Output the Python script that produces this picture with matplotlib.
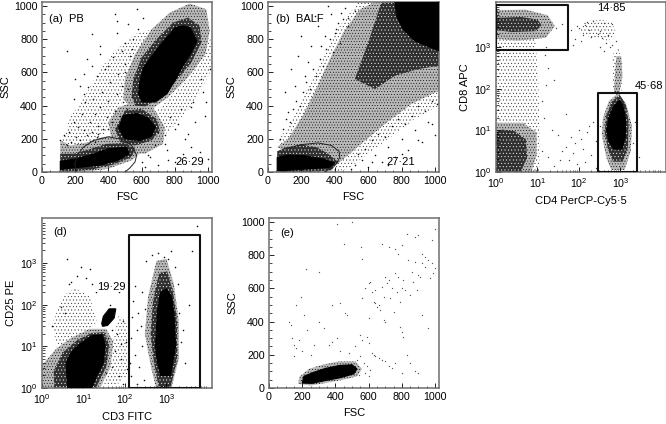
import numpy as np
import matplotlib
matplotlib.use("Agg")
import matplotlib.pyplot as plt
from matplotlib.ticker import FixedLocator, NullFormatter

plt.rcParams["font.family"] = ["Liberation Sans", "DejaVu Sans"]
plt.rcParams["font.size"] = 7.7
plt.rcParams["hatch.linewidth"] = 0.3

# Log panels hold decade exponents (2.5 means 10^2.5).

# (a) PB
a_core = [
    ([602, 582, 590, 612, 670, 733, 803, 850, 893, 933, 900, 843, 800, 753, 683],
     [422, 472, 550, 630, 710, 790, 870, 880, 870, 790, 720, 630, 550, 472, 422]),
    ([462, 500, 590, 660, 683, 640, 570, 490],
     [260, 200, 190, 215, 270, 325, 352, 340]),
    ([110, 110, 200, 300, 400, 510, 525, 460, 350, 250, 180],
     [15, 65, 78, 105, 140, 150, 110, 72, 42, 30, 25]),
]
a_mid = [
    ([540, 560, 620, 700, 800, 900, 960, 950, 880, 790, 690, 600, 550],
     [460, 400, 395, 440, 540, 660, 780, 880, 930, 900, 800, 690, 560]),
    ([440, 470, 560, 660, 710, 690, 600, 500],
     [260, 180, 160, 190, 250, 320, 380, 370]),
    ([110, 110, 190, 280, 390, 500, 560, 540, 430, 300, 200],
     [0, 110, 110, 135, 170, 175, 140, 90, 45, 15, 5]),
]
a_light = [
    ([490, 550, 650, 760, 880, 985, 1010, 990, 890, 770, 660, 560, 500],
     [440, 370, 370, 450, 570, 710, 850, 980, 1015, 960, 860, 710, 560]),
    ([400, 420, 500, 620, 730, 740, 670, 550, 460],
     [300, 190, 120, 110, 170, 270, 390, 420, 390]),
    ([110, 110, 170, 260, 360, 470, 570, 610, 540, 400, 250],
     [0, 190, 160, 175, 210, 220, 195, 130, 70, 20, 0]),
]
a_faint = [
    ([110, 170, 260, 350, 440, 560, 660, 560, 470, 380, 250],
     [150, 330, 460, 620, 730, 830, 860, 560, 400, 230, 150]),
    ([600, 760, 920, 1024, 1024, 880, 740, 620],
     [130, 240, 420, 620, 820, 560, 420, 290]),
]
a_sparse_x = [110, 130, 150, 160, 175, 190, 205, 215, 230, 240, 250, 260, 270, 280, 290, 300, 310, 320, 330, 340,
              350, 360, 370, 380, 390, 400, 410, 420, 430, 440, 450, 460, 470, 480, 490, 500, 510, 520, 530, 540,
              150, 200, 250, 300, 350, 400, 450, 500, 320, 330, 340, 400, 460, 480, 350, 300, 270, 250, 230, 190,
              600, 650, 700, 750, 800, 850, 900, 950, 1000, 620, 680, 740, 800, 860, 920, 980, 640, 700, 770, 840,
              910, 970, 740, 820, 900, 960, 1010, 760, 880, 990, 550, 580, 610, 450, 480, 520, 500, 540, 570, 440]
a_sparse_y = [190, 220, 160, 240, 180, 300, 210, 270, 190, 350, 250, 420, 220, 510, 300, 240, 440, 350, 580, 280,
              390, 480, 260, 620, 330, 430, 540, 300, 690, 370, 470, 590, 340, 520, 420, 650, 380, 500, 700, 450,
              730, 560, 590, 830, 760, 640, 910, 780, 180, 210, 230, 260, 280, 300, 710, 640, 680, 470, 520, 440,
              60, 90, 40, 130, 60, 110, 150, 120, 80, 30, 160, 220, 260, 200, 300, 340, 100, 240, 330, 380,
              420, 480, 170, 290, 390, 560, 620, 70, 230, 420, 800, 860, 930, 840, 730, 890, 600, 740, 980, 950]
a_gate_x = [205, 198, 215, 250, 310, 400, 490, 545, 570, 560, 530, 500]
a_gate_y = [0, 50, 105, 150, 190, 212, 195, 155, 100, 60, 25, 0]

# (b) BALF
b_core = [
    ([55, 55, 120, 220, 330, 400, 370, 280, 180, 90],
     [10, 88, 102, 98, 78, 55, 28, 22, 15, 8]),
    ([760, 1024, 1024, 950, 880, 810, 770],
     [1024, 1024, 730, 760, 790, 860, 940]),
]
b_mid = [
    ([55, 55, 110, 200, 290, 360, 420, 380, 250],
     [0, 125, 150, 165, 150, 110, 60, 10, 0]),
    ([520, 600, 680, 1024, 1024, 900, 760, 640],
     [560, 780, 1024, 1024, 640, 620, 580, 500]),
]
b_light = [
    ([55, 120, 210, 290, 370, 450, 550, 640, 1024, 1024, 860, 700, 560, 430, 340],
     [150, 200, 340, 500, 680, 840, 980, 1024, 1024, 490, 410, 290, 170, 60, 0]),
]
b_faint = [
    ([55, 140, 240, 340, 430, 540, 1024, 1024, 880, 720, 600, 480, 400],
     [180, 300, 520, 720, 880, 1024, 1024, 400, 320, 200, 110, 20, 0]),
]
b_sparse_x = [70, 90, 110, 130, 150, 170, 190, 210, 230, 250, 270, 290, 310, 330, 350, 370, 390, 410, 430, 450,
              100, 140, 180, 220, 260, 300, 340, 380, 420, 460, 120, 160, 200, 240, 280, 320, 360, 400, 440, 480,
              520, 560, 600, 640, 680, 720, 760, 800, 840, 880, 920, 960, 1000, 500, 540, 580, 620, 660, 700, 740,
              780, 820, 860, 900, 940, 980, 1015, 620, 720, 800, 900, 980, 480, 520]
b_sparse_y = [200, 260, 320, 300, 380, 430, 400, 480, 540, 500, 620, 580, 680, 640, 740, 800, 720, 860, 780, 920,
              480, 620, 700, 580, 760, 880, 820, 950, 900, 990, 360, 520, 820, 660, 940, 760, 1000, 840, 960, 880,
              40, 70, 30, 100, 60, 150, 90, 200, 130, 250, 180, 300, 220, 20, 110, 140, 190, 230, 210, 280,
              320, 290, 340, 400, 370, 430, 410, 60, 40, 110, 190, 290, 930, 970]
b_gate_x = [130, 200, 300, 380, 425, 430, 410, 340]
b_gate_y = [145, 165, 175, 160, 125, 90, 50, 0]

# (c) CD4 / CD8, exponents
c_core = [
    ([2.67, 2.72, 2.84, 3.04, 3.12, 3.12, 3.06, 2.98, 2.84, 2.72],
     [1.00, 0.75, 0.55, 0.55, 0.85, 1.30, 1.60, 1.72, 1.58, 1.30]),
]
c_mid = [
    ([2.62, 2.70, 2.82, 3.06, 3.18, 3.20, 3.12, 2.98, 2.78, 2.66],
     [0.95, 0.55, 0.25, 0.25, 0.60, 1.20, 1.65, 1.85, 1.68, 1.35]),
    ([0.02, 0.40, 0.95, 1.10, 1.00, 0.60, 0.02],
     [3.40, 3.36, 3.38, 3.52, 3.66, 3.72, 3.70]),
    ([0.00, 0.60, 0.75, 0.72, 0.45, 0.15, 0.00],
     [0.00, 0.00, 0.35, 0.78, 0.98, 1.02, 0.95]),
]
c_light = [
    ([2.55, 2.66, 2.78, 3.10, 3.25, 3.28, 3.15, 2.95, 2.72, 2.58],
     [0.90, 0.35, 0.05, 0.05, 0.50, 1.10, 1.60, 1.90, 1.70, 1.30]),
    ([0.00, 0.50, 1.20, 1.42, 1.25, 0.70, 0.00],
     [3.20, 3.15, 3.22, 3.50, 3.76, 3.90, 3.88]),
    ([0.00, 0.85, 0.98, 0.98, 0.65, 0.00],
     [0.00, 0.00, 0.40, 0.95, 1.18, 1.18]),
    ([2.84, 2.98, 3.05, 3.02, 2.90],
     [1.92, 1.92, 2.30, 2.78, 2.78]),
]
c_faint = [
    ([0.00, 1.05, 1.05, 1.02, 0.95, 0.00], [0.00, 0.00, 1.00, 2.20, 3.20, 3.20]),
    ([2.82, 3.02, 3.06, 2.95, 2.80], [1.90, 1.90, 2.60, 3.00, 2.80]),
    ([2.00, 2.25, 2.72, 2.90, 2.78, 2.55, 2.15], [3.35, 3.25, 3.15, 3.35, 3.60, 3.66, 3.62]),
]
c_sparse_x = [1.80, 1.90, 2.00, 2.10, 2.20, 2.30, 2.40, 2.50, 2.60, 2.70, 2.80, 2.90, 1.85, 1.95, 2.05, 2.15, 2.25,
              2.35, 2.45, 2.55, 2.65, 2.75, 2.50, 2.60, 2.70, 2.80, 1.30, 1.45, 1.60, 1.20, 1.40,
              1.70, 1.80, 1.90, 2.00, 2.10, 2.20, 2.30, 1.75, 1.85, 1.95, 2.05, 2.15, 2.25, 2.35, 1.50, 1.60, 2.40,
              1.10, 1.15, 1.20, 1.25, 1.35, 1.12, 1.18, 3.30, 3.35, 3.45, 2.40, 2.50, 1.40, 1.55, 1.25, 1.70]
c_sparse_y = [3.40, 3.20, 3.45, 3.30, 3.60, 3.25, 3.50, 3.38, 3.58, 3.28, 3.55, 3.15, 3.05, 3.50, 3.15, 3.52, 3.42,
              3.62, 3.32, 3.22, 3.10, 3.00, 3.00, 2.90, 3.30, 3.05, 3.60, 3.45, 3.55, 3.00, 2.20,
              0.60, 0.85, 0.70, 1.00, 0.55, 0.95, 0.40, 0.30, 0.45, 0.20, 0.80, 0.25, 1.10, 1.20, 0.90, 0.50, 0.10,
              0.50, 1.30, 2.10, 2.50, 1.00, 1.70, 2.80, 0.70, 1.20, 0.35, 0.75, 1.10, 0.15, 0.30, 0.35, 1.40]
c_rect_x = [0.00, 1.735]
c_rect_y = [2.94, 4.02]
c_rect2_x = [2.47, 3.41]
c_rect2_y = [0.00, 1.90]

# (d) CD3 / CD25, exponents
d_core = [
    ([0.62, 0.58, 0.70, 0.90, 1.20, 1.45, 1.52, 1.48, 1.30, 1.20],
     [0.00, 0.60, 0.85, 1.05, 1.25, 1.28, 1.05, 0.60, 0.25, 0.00]),
    ([1.44, 1.48, 1.62, 1.78, 1.74, 1.58, 1.46],
     [1.55, 1.72, 1.90, 1.90, 1.68, 1.50, 1.48]),
    ([2.74, 2.78, 2.86, 3.10, 3.22, 3.18, 3.12, 3.00, 2.86, 2.78],
     [1.00, 0.65, 0.30, 0.30, 1.00, 1.80, 2.20, 2.38, 2.30, 1.80]),
]
d_mid = [
    ([0.30, 0.70, 1.30, 1.55, 1.62, 1.50, 1.20, 0.85, 0.50, 0.28],
     [0.00, 0.00, 0.00, 0.50, 1.05, 1.34, 1.32, 1.15, 0.85, 0.40]),
    ([2.62, 2.70, 2.82, 3.10, 3.26, 3.26, 3.16, 3.02, 2.82, 2.68],
     [1.30, 0.60, 0.00, 0.00, 0.70, 1.60, 2.30, 2.80, 2.75, 2.10]),
]
d_light = [
    ([0.00, 1.40, 1.65, 1.72, 1.55, 1.15, 0.70, 0.35, 0.00],
     [0.00, 0.00, 0.50, 1.10, 1.42, 1.42, 1.20, 0.95, 0.55]),
    ([2.48, 2.62, 2.75, 3.12, 3.30, 3.30, 3.18, 3.00, 2.76, 2.56],
     [1.30, 0.55, 0.00, 0.00, 0.70, 1.60, 2.50, 3.10, 3.05, 2.20]),
]
d_faint = [
    ([0.35, 0.75, 1.05, 1.32, 1.15, 0.80, 0.50, 0.25],
     [1.00, 1.10, 1.25, 1.60, 2.20, 2.40, 2.20, 1.55]),
    ([1.50, 1.78, 2.05, 2.05, 1.85], [0.10, 0.05, 0.30, 1.60, 1.75]),
]
d_sparse_x = [0.60, 0.85, 1.05, 1.20, 1.38, 0.70, 0.95, 1.30, 0.45, 0.65, 1.15, 0.25, 0.55, 1.40, 1.55, 1.70, 1.85, 1.95,
              1.60, 1.75, 1.90, 2.05, 1.70, 1.90, 1.55, 1.80, 1.95, 2.02, 1.65, 1.85,
              2.15, 2.20, 2.25, 2.30, 2.35, 2.42, 2.48, 2.15, 2.28, 2.40, 2.18, 2.32, 2.45, 2.12, 2.25, 2.38,
              3.30, 3.35, 3.28, 3.40, 3.45, 3.55, 3.62, 3.75, 2.50, 2.65, 2.80, 2.95, 3.10, 3.20, 3.05]
d_sparse_y = [3.10, 2.70, 2.65, 2.50, 2.40, 2.55, 2.90, 2.30, 1.95, 2.50, 2.85, 1.50, 1.80, 1.00, 0.70, 0.50, 0.30, 0.10,
              1.20, 0.90, 0.70, 0.45, 1.40, 1.05, 0.35, 1.30, 1.60, 1.10, 2.00, 2.30,
              0.30, 2.10, 0.80, 1.40, 0.50, 1.00, 1.90, 1.20, 0.10, 2.30, 1.70, 1.80, 0.20, 0.60, 2.45, 1.50,
              1.80, 1.10, 2.50, 1.40, 0.60, 2.00, 3.30, 3.90, 3.05, 3.20, 3.25, 3.15, 3.28, 2.90, 3.10]
d_rect_x = [2.09, 3.80]
d_rect_y = [0.00, 3.67]

# (e) beads
e_core = [
    ([200, 260, 340, 430, 510, 530, 500, 420, 340, 270, 210],
     [30, 28, 45, 62, 85, 115, 140, 135, 118, 95, 70]),
]
e_light = [
    ([175, 250, 340, 440, 530, 560, 520, 420, 320, 240, 185],
     [25, 15, 30, 48, 70, 115, 160, 160, 140, 115, 70]),
]
e_sparse_x = [220, 300, 450, 555, 560, 610, 640, 680, 720, 760, 780, 800, 830, 880, 900, 920, 940, 960, 980, 1000,
              560, 600, 620, 640, 660, 680, 700, 720, 740, 760, 780, 800, 820, 840, 860, 880, 900, 920, 940, 990,
              580, 630, 650, 670, 690, 710, 730, 750, 770, 790, 810, 850, 870, 890, 910, 970, 120, 130, 140, 150,
              160, 180, 200, 210, 230, 250, 270, 300, 330, 360, 380, 410, 430, 470, 480, 520, 550, 560, 590, 600,
              620, 640, 660, 680, 700, 720, 740, 760, 790, 800, 810, 830, 850, 880, 920, 960, 530, 550, 570, 590,
              610, 630, 540, 580, 600, 160, 190, 380, 430, 460, 600, 700, 800, 900, 1000, 980, 690, 500, 150, 410]
e_sparse_y = [715, 700, 865, 850, 780, 640, 590, 870, 850, 840, 810, 860, 930, 910, 920, 810, 790, 770, 750, 720,
              540, 630, 580, 510, 500, 610, 670, 650, 600, 690, 670, 600, 590, 770, 700, 760, 680, 750, 730, 690,
              600, 520, 490, 470, 550, 630, 540, 460, 580, 520, 650, 560, 640, 590, 670, 660, 400, 380, 300, 260,
              240, 290, 220, 440, 350, 200, 260, 400, 360, 260, 280, 300, 220, 440, 210, 250, 320, 290, 310, 270,
              210, 190, 180, 170, 160, 130, 120, 150, 370, 340, 310, 200, 150, 100, 440, 360, 170, 190, 150, 130,
              110, 200, 80, 90, 70, 500, 550, 500, 510, 450, 420, 400, 90, 90, 960, 890, 410, 1000, 190, 990]

LINEAR_MAJOR = [0, 200, 400, 600, 800, 1000]
LINEAR_MINOR = [50, 100, 150, 250, 300, 350, 450, 500, 550, 650, 700, 750, 850, 900, 950]
DECADE_TICKS = [1, 10, 100, 1000]
DECADE_LABELS = ["$\\mathregular{10^{0}}$", "$\\mathregular{10^{1}}$",
                 "$\\mathregular{10^{2}}$", "$\\mathregular{10^{3}}$"]
LOG_MINOR = [2, 3, 4, 5, 6, 7, 8, 9]

SPINE = "#6e6e6e"
# base colour, hatch colour, hatch
TONES = {
    "mid": ("#303030", "white", "....."),
    "light": ("#b8b8b8", "black", "......"),
    "faint": ("white", "#222222", "....."),
}


def add_axes_px(fig, left, top, right, bottom):
    return fig.add_axes([left / 666, 1 - bottom / 424, (right - left) / 666, (bottom - top) / 424])


def finish(ax, xlabel, ylabel):
    ax.set_xlabel(xlabel, fontsize=8, labelpad=4)
    ax.set_ylabel(ylabel, fontsize=8, labelpad=3)
    ax.tick_params(which="major", direction="in", length=3.5, width=0.6, pad=3)
    ax.tick_params(which="minor", direction="in", length=1.8, width=0.5)
    for spine in ax.spines.values():
        spine.set_color(SPINE)
        spine.set_linewidth(1.1)


def setup_linear(ax, xlabel, ylabel):
    ax.set_xlim(0, 1024)
    ax.set_ylim(0, 1024)
    ax.set_xticks(LINEAR_MAJOR)
    ax.set_yticks(LINEAR_MAJOR)
    ax.xaxis.set_minor_locator(FixedLocator(LINEAR_MINOR))
    ax.yaxis.set_minor_locator(FixedLocator(LINEAR_MINOR))
    finish(ax, xlabel, ylabel)


def setup_log(ax, xlabel, ylabel):
    ax.set_xscale("log")
    ax.set_yscale("log")
    ax.set_xlim(1, 10 ** 4.1)
    ax.set_ylim(1, 10 ** 4.08)
    for axis in (ax.xaxis, ax.yaxis):
        axis.set_major_locator(FixedLocator(DECADE_TICKS))
        axis.set_minor_locator(matplotlib.ticker.LogLocator(base=10, subs=LOG_MINOR, numticks=8))
        axis.set_minor_formatter(NullFormatter())
    ax.set_xticklabels(DECADE_LABELS)
    ax.set_yticklabels(DECADE_LABELS)
    finish(ax, xlabel, ylabel)


def to_values(values, log_panel):
    values = np.asarray(values, dtype=float)
    return np.power(10.0, values) if log_panel else values


def fill_cloud(ax, outlines, tone=None, log_panel=False):
    for xs, ys in outlines:
        xs, ys = to_values(xs, log_panel), to_values(ys, log_panel)
        if tone is None:
            ax.fill(xs, ys, color="black", lw=0.8, zorder=3)
        else:
            base, ink, hatch = TONES[tone]
            ax.fill(xs, ys, color=base, lw=0, zorder=1)
            ax.fill(xs, ys, facecolor="none", edgecolor=ink, hatch=hatch, lw=0, zorder=1)


def dots(ax, xs, ys, log_panel=False, color="#111111", size=1.3):
    ax.scatter(to_values(xs, log_panel), to_values(ys, log_panel), s=size, color=color, lw=0, zorder=2)


def gate_box(ax, xs, ys):
    xs, ys = to_values(xs, True), to_values(ys, True)
    ax.plot([xs[0], xs[0], xs[1], xs[1], xs[0]], [ys[0], ys[1], ys[1], ys[0], ys[0]],
            color="#111111", lw=1.5, zorder=5)


def main():
    fig = plt.figure(figsize=(6.66, 4.24), dpi=100)

    ax = add_axes_px(fig, 42, 2, 212, 172)
    fill_cloud(ax, a_faint, "faint")
    fill_cloud(ax, a_light, "light")
    fill_cloud(ax, a_mid, "mid")
    fill_cloud(ax, a_core)
    dots(ax, a_sparse_x, a_sparse_y)
    ax.plot(a_gate_x, a_gate_y, color="#222222", lw=0.7, zorder=4)
    setup_linear(ax, "FSC", "SSC")
    ax.text(45, 905, "(a)  PB", fontsize=8, zorder=6)
    ax.text(805, 45, "26·29", fontsize=8, zorder=6)

    ax = add_axes_px(fig, 268, 2, 439, 172)
    fill_cloud(ax, b_faint, "faint")
    fill_cloud(ax, b_light, "light")
    fill_cloud(ax, b_mid, "mid")
    fill_cloud(ax, b_core)
    dots(ax, b_sparse_x, b_sparse_y)
    ax.plot(b_gate_x, b_gate_y, color="#222222", lw=0.7, zorder=4)
    setup_linear(ax, "FSC", "SSC")
    ax.text(45, 905, "(b)  BALF", fontsize=8, zorder=6)
    ax.text(710, 40, "27·21", fontsize=8, zorder=6)

    ax = add_axes_px(fig, 496, 2, 666, 172)
    fill_cloud(ax, c_faint, "faint", log_panel=True)
    fill_cloud(ax, c_light, "light", log_panel=True)
    fill_cloud(ax, c_mid, "mid", log_panel=True)
    fill_cloud(ax, c_core, log_panel=True)
    dots(ax, c_sparse_x, c_sparse_y, log_panel=True, color="#444444", size=1.0)
    gate_box(ax, c_rect_x, c_rect_y)
    gate_box(ax, c_rect2_x, c_rect2_y)
    setup_log(ax, "CD4 PerCP-Cy5·5", "CD8 APC")
    ax.text(10 ** 2.45, 10 ** 3.86, "14·85", fontsize=8, zorder=6)
    ax.text(10 ** 3.35, 10 ** 2.0, "45·68", fontsize=8, zorder=6)

    ax = add_axes_px(fig, 42, 218, 212, 388)
    fill_cloud(ax, d_faint, "faint", log_panel=True)
    fill_cloud(ax, d_light, "light", log_panel=True)
    fill_cloud(ax, d_mid, "mid", log_panel=True)
    fill_cloud(ax, d_core, log_panel=True)
    dots(ax, d_sparse_x, d_sparse_y, log_panel=True)
    gate_box(ax, d_rect_x, d_rect_y)
    setup_log(ax, "CD3 FITC", "CD25 PE")
    ax.text(10 ** 0.27, 10 ** 3.68, "(d)", fontsize=8, zorder=6)
    ax.text(10 ** 1.33, 10 ** 2.36, "19·29", fontsize=8, zorder=6,
            bbox={"facecolor": "white", "edgecolor": "none", "pad": 0.5})

    ax = add_axes_px(fig, 269, 218, 439, 388)
    fill_cloud(ax, e_light, "light")
    fill_cloud(ax, e_core)
    dots(ax, e_sparse_x, e_sparse_y, color="#555555", size=0.9)
    setup_linear(ax, "FSC", "SSC")
    ax.text(65, 915, "(e)", fontsize=8, zorder=6)

    fig.savefig("out.png", dpi=100)
    plt.close(fig)


if __name__ == "__main__":
    main()
